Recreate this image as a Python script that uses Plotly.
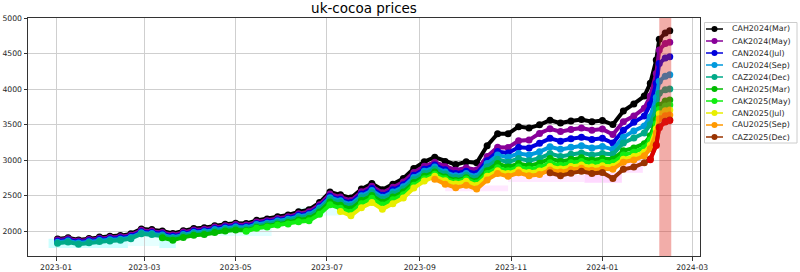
import pandas as pd
import plotly.graph_objects as go

# ---------------- data ----------------
# weekly observation dates (plus a few extra days in the final rally)
dates = list(pd.date_range("2023-01-02", "2024-01-29", freq="7D").strftime("%Y-%m-%d")) + [
    "2024-02-02", "2024-02-06", "2024-02-08", "2024-02-12", "2024-02-15"]

contracts = ["CAH2024(Mar)", "CAK2024(May)", "CAN2024(Jul)", "CAU2024(Sep)", "CAZ2024(Dec)",
             "CAH2025(Mar)", "CAK2025(May)", "CAN2025(Jul)", "CAU2025(Sep)", "CAZ2025(Dec)"]
colors = ["#000000", "#880099", "#0000dd", "#0099dd", "#00aa88",
          "#00bb00", "#11ee11", "#e8ee00", "#ff9900", "#993300"]

cah2024 = [1887, 1905, 1875, 1895, 1915, 1925, 1935, 1960, 2030, 2020,
           2000, 1965, 2005, 2035, 2045, 2075, 2095, 2110, 2105, 2150,
           2170, 2200, 2225, 2270, 2300, 2400, 2550, 2510, 2465, 2590,
           2670, 2580, 2660, 2740, 2880, 2975, 3040, 2980, 2935, 2975,
           2960, 3200, 3370, 3370, 3470, 3450, 3495, 3560, 3520, 3550,
           3570, 3540, 3555, 3500, 3690, 3790, 3900, 4080, 4410, 4700,
           4790, 4820]
cak2024 = [1872, 1890, 1860, 1879, 1899, 1908, 1918, 1942, 2010, 2000,
           1980, 1945, 1985, 2015, 2025, 2055, 2075, 2090, 2083, 2128,
           2146, 2175, 2200, 2244, 2272, 2370, 2520, 2478, 2430, 2552,
           2630, 2538, 2615, 2690, 2825, 2913, 2970, 2906, 2857, 2891,
           2860, 3050, 3180, 3175, 3270, 3280, 3375, 3440, 3400, 3430,
           3450, 3420, 3435, 3360, 3540, 3620, 3730, 3900, 4220, 4550,
           4640, 4660]
can2024 = [1857, 1875, 1845, 1864, 1883, 1892, 1901, 1924, 1990, 1980,
           1960, 1925, 1965, 1995, 2005, 2035, 2055, 2070, 2063, 2107,
           2126, 2155, 2180, 2222, 2248, 2344, 2490, 2448, 2400, 2522,
           2598, 2504, 2580, 2652, 2784, 2871, 2930, 2862, 2810, 2843,
           2810, 2990, 3120, 3100, 3180, 3170, 3235, 3305, 3265, 3300,
           3320, 3290, 3305, 3240, 3420, 3530, 3620, 3780, 4080, 4360,
           4435, 4455]
cau2024 = [1842, 1860, 1830, 1849, 1868, 1877, 1885, 1908, 1975, 1965,
           1945, 1910, 1950, 1980, 1990, 2020, 2040, 2055, 2048, 2092,
           2111, 2140, 2165, 2206, 2230, 2325, 2470, 2425, 2375, 2495,
           2570, 2475, 2550, 2622, 2754, 2841, 2900, 2830, 2777, 2811,
           2770, 2950, 3070, 3040, 3090, 3070, 3115, 3185, 3150, 3180,
           3200, 3170, 3190, 3150, 3320, 3410, 3480, 3610, 3880, 4110,
           4180, 4200]
caz2024 = [1827, 1845, 1815, 1834, 1853, 1861, 1869, 1892, 1960, 1950,
           1930, 1895, 1935, 1963, 1972, 2001, 2020, 2035, 2028, 2072,
           2091, 2120, 2145, 2184, 2208, 2302, 2445, 2400, 2350, 2468,
           2542, 2446, 2520, 2590, 2722, 2810, 2870, 2802, 2752, 2787,
           2740, 2900, 3010, 2970, 3020, 2990, 3025, 3090, 3050, 3080,
           3100, 3070, 3090, 3080, 3240, 3310, 3380, 3500, 3730, 3940,
           3990, 4000]
cah2025 = [1905, 1870, 1910, 1940, 1950, 1980, 2000, 2015, 2008, 2051,
           2068, 2095, 2120, 2155, 2175, 2268, 2410, 2362, 2310, 2428,
           2500, 2405, 2480, 2550, 2682, 2770, 2830, 2762, 2713, 2749,
           2700, 2850, 2950, 2900, 2950, 2920, 2955, 3020, 2980, 3010,
           3030, 3000, 3020, 3010, 3130, 3170, 3230, 3340, 3570, 3770,
           3830, 3845]
cak2025 = [1997, 2040,
           2058, 2085, 2100, 2130, 2145, 2235, 2370, 2320, 2265, 2385,
           2460, 2365, 2440, 2512, 2646, 2737, 2800, 2737, 2691, 2731,
           2675, 2810, 2890, 2850, 2900, 2870, 2895, 2960, 2925, 2960,
           2980, 2950, 2970, 2960, 3070, 3110, 3170, 3280, 3510, 3710,
           3760, 3775]
can2025 = [2275, 2215, 2328,
           2400, 2308, 2385, 2465, 2605, 2703, 2770, 2708, 2662, 2702,
           2640, 2770, 2850, 2810, 2860, 2825, 2845, 2910, 2875, 2910,
           2930, 2900, 2920, 2910, 3010, 3050, 3110, 3210, 3440, 3650,
           3695, 3705]
cau2025 = [2730, 2660, 2610, 2646,
           2590, 2720, 2810, 2770, 2820, 2780, 2795, 2860, 2830, 2865,
           2885, 2855, 2875, 2870, 2970, 3000, 3060, 3160, 3380, 3580,
           3625, 3634]
caz2025 = [2820, 2780, 2815,
           2840, 2810, 2825, 2740, 2870, 2900, 2960, 3015, 3215, 3465,
           3545, 3565]
# newest listed contract, shown without a legend entry
cah2026 = [3005, 3205, 3455, 3535, 3555]

series = [cah2024, cak2024, can2024, cau2024, caz2024,
          cah2025, cak2025, can2025, cau2025, caz2025]

# faint background shading (x0, x1, y0, y1, colour)
shading = [
    ("2022-12-27", "2023-02-18", 1760, 1890, "#ccffff"),
    ("2023-02-18", "2023-03-11", 1790, 1950, "#e6ffff"),
    ("2023-03-11", "2023-03-22", 1760, 1890, "#ccffff"),
    ("2023-04-20", "2023-05-25", 1930, 2040, "#e0ffff"),
    ("2023-06-12", "2023-07-10", 2220, 2330, "#e0ffff"),
    ("2023-09-18", "2023-10-30", 2560, 2640, "#ffe8ff"),
    ("2023-10-30", "2023-12-20", 2690, 2790, "#ffe8ff"),
    ("2023-12-20", "2024-01-14", 2680, 2820, "#ffd8ff"),
    ("2024-01-14", "2024-01-28", 2820, 3040, "#ffe0ff"),
]
highlight = ("2024-02-08", "2024-02-16")

# ---------------- figure ----------------
W, H = 800, 272
L, R, T, B = 28, 700, 18, 256
FONT = "DejaVu Sans"

fig = go.Figure()
for name, color, vals in zip(contracts, colors, series):
    fig.add_trace(go.Scatter(
        x=dates[-len(vals):], y=vals, mode="lines+markers", name=name,
        line=dict(color=color, width=4), marker=dict(color=color, size=7),
        showlegend=False))
fig.add_trace(go.Scatter(
    x=dates[-len(cah2026):], y=cah2026, mode="lines+markers", name="CAH2026(Mar)",
    line=dict(color="#dd0000", width=4), marker=dict(color="#dd0000", size=7),
    showlegend=False))

for x0, x1, y0, y1, c in shading:
    fig.add_shape(type="rect", xref="x", yref="y", x0=x0, x1=x1, y0=y0, y1=y1,
                  fillcolor=c, line=dict(width=0), layer="below")
fig.add_shape(type="rect", xref="x", yref="paper", x0=highlight[0], x1=highlight[1],
              y0=0, y1=1, fillcolor="rgba(220,40,30,0.38)", line=dict(width=0), layer="above")


def px_x(px):
    return (px - L) / (R - L)


def px_y(py):
    return (B - py) / (B - T)


# legend box drawn in the right margin
fig.add_shape(type="rect", xref="paper", yref="paper",
              x0=px_x(704.5), x1=px_x(797), y0=px_y(143), y1=px_y(22.5),
              fillcolor="rgba(255,255,255,0.8)", line=dict(color="#cccccc", width=1))
for i, (name, color) in enumerate(zip(contracts, colors)):
    cy = 29 + 12 * i
    fig.add_shape(type="line", xref="paper", yref="paper",
                  x0=px_x(706), x1=px_x(723), y0=px_y(cy), y1=px_y(cy),
                  line=dict(color=color, width=1.5))
    fig.add_shape(type="circle", xref="paper", yref="paper",
                  x0=px_x(711.5), x1=px_x(717.5), y0=px_y(cy + 3), y1=px_y(cy - 3),
                  fillcolor=color, line=dict(width=0))
    fig.add_annotation(x=px_x(730), y=px_y(cy), xref="paper", yref="paper",
                       text=name, showarrow=False, xanchor="left", yanchor="middle",
                       font=dict(family=FONT, size=7.9, color="#262626"))

axis_common = dict(showgrid=True, gridcolor="#cfcfcf", gridwidth=1,
                   ticks="outside", ticklen=3.5, tickcolor="#333333", tickwidth=1,
                   showline=True, mirror=True, linecolor="#333333", linewidth=1,
                   zeroline=False, automargin=False,
                   tickfont=dict(family=FONT, size=7.7, color="#262626"))

fig.update_layout(
    width=W, height=H,
    margin=dict(l=L, r=W - R, t=T, b=H - B, pad=0, autoexpand=False),
    paper_bgcolor="white", plot_bgcolor="white",
    showlegend=False,
    title=dict(text="uk-cocoa prices", x=(L + R) / 2 / W, xanchor="center",
               y=1 - 8.5 / H, yanchor="middle", yref="container",
               font=dict(family=FONT, size=13.5, color="#000000")),
    xaxis=dict(range=["2022-12-13 06:00", "2024-03-06 05:00"], type="date",
               tick0="2023-01-01", dtick="M2", tickformat="%Y-%m", **axis_common),
    yaxis=dict(range=[1648, 5000], tick0=0, dtick=500, **axis_common),
)

fig.write_html("out.html")
